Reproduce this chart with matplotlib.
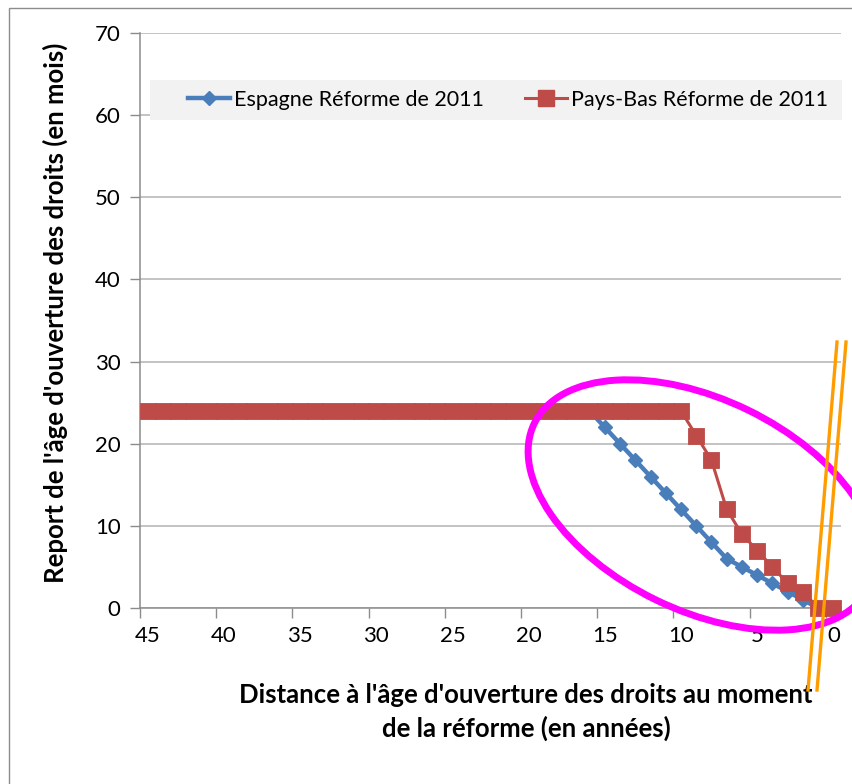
import matplotlib
matplotlib.use("Agg")
import matplotlib.pyplot as plt
from matplotlib.lines import Line2D
from matplotlib.patches import Ellipse, Rectangle
from matplotlib.transforms import IdentityTransform

plt.rcParams['font.family'] = ['Lato', 'DejaVu Sans']

# ---- data ----
distance = [45, 44, 43, 42, 41, 40, 39, 38, 37, 36, 35, 34, 33, 32, 31, 30,
            29, 28, 27, 26, 25, 24, 23, 22, 21, 20, 19, 18, 17, 16, 15, 14,
            13, 12, 11, 10, 9, 8, 7, 6, 5, 4, 3, 2, 1, 0]
espagne = [24, 24, 24, 24, 24, 24, 24, 24, 24, 24, 24, 24, 24, 24, 24, 24,
           24, 24, 24, 24, 24, 24, 24, 24, 24, 24, 24, 24, 24, 24, 22, 20,
           18, 16, 14, 12, 10, 8, 6, 5, 4, 3, 2, 1, 0, 0]
pays_bas = [24, 24, 24, 24, 24, 24, 24, 24, 24, 24, 24, 24, 24, 24, 24, 24,
            24, 24, 24, 24, 24, 24, 24, 24, 24, 24, 24, 24, 24, 24, 24, 24,
            24, 24, 24, 24, 21, 18, 12, 9, 7, 5, 3, 2, 0, 0]
x_tick_labels = ['45', '40', '35', '30', '25', '20', '15', '10', '5', '0']
y_ticks = [0, 10, 20, 30, 40, 50, 60, 70]
series_names = ['Espagne Réforme de 2011', 'Pays-Bas Réforme de 2011']
y_title = "Report de l'âge d'ouverture des droits (en mois)"
x_title_1 = "Distance à l'âge d'ouverture des droits au moment"
x_title_2 = "de la réforme (en années)"

BLUE = '#4A7EBB'
RED = '#BE4B48'
GRID = '#B3B3B3'
AXIS = '#8C8C8C'

W, H = 852, 784
fig = plt.figure(figsize=(W / 100, H / 100), dpi=100)
fig.patch.set_facecolor('white')

L, R, T, B = 140, 841, 33, 608
ax = fig.add_axes([L / W, 1 - B / H, (R - L) / W, (B - T) / H])

ax.plot(distance, espagne, color=BLUE, lw=3.2, marker='D', ms=7.4,
        mfc=BLUE, mec=BLUE, zorder=3, clip_on=False)
ax.plot(distance, pays_bas, color=RED, lw=2.2, marker='s', ms=11.2,
        mfc=RED, mec=RED, mew=0.6, zorder=4, clip_on=False)

ax.set_xlim(45.5, -0.5)
ax.set_ylim(0, 70)

# labels at category centres, tick marks at category boundaries
label_pos = [int(v) for v in x_tick_labels]
ax.set_xticks(label_pos)
ax.set_xticklabels(x_tick_labels)
ax.set_xticks([p + 0.5 for p in label_pos], minor=True)
ax.tick_params(axis='x', which='major', length=0, pad=13, labelsize=16,
               labelcolor='black')
ax.tick_params(axis='x', which='minor', length=7, width=1, color=AXIS)

ax.set_yticks(y_ticks)
ax.tick_params(axis='y', length=7, width=1, color=AXIS, pad=7,
               labelsize=16, labelcolor='black')

ax.grid(axis='y', color=GRID, lw=1.1)
ax.set_axisbelow(True)
for s in ['top', 'right']:
    ax.spines[s].set_visible(False)
for s in ['left', 'bottom']:
    ax.spines[s].set_color(AXIS)
    ax.spines[s].set_linewidth(1.1)

# legend background
lx0, lx1, ly0, ly1 = 150, 842, 80, 120
ax.add_patch(Rectangle(((lx0 - L) / (R - L), (B - ly1) / (B - T)),
                       (lx1 - lx0) / (R - L), (ly1 - ly0) / (B - T),
                       transform=ax.transAxes, facecolor='#F2F2F2',
                       edgecolor='none', zorder=2.5, clip_on=False))
handles = [
    Line2D([], [], color=BLUE, lw=3.2, marker='D', ms=7.4, mfc=BLUE, mec=BLUE),
    Line2D([], [], color=RED, lw=2.2, marker='s', ms=11.2, mfc=RED, mec=RED),
]
leg = ax.legend(handles, series_names, ncol=2, frameon=False,
                loc='center', bbox_to_anchor=((508 - L) / (R - L), (B - 100) / (B - T)),
                fontsize=15.5, handlelength=1.95, handletextpad=0.2,
                columnspacing=1.9, numpoints=1, borderpad=0)
leg.set_zorder(5)

# axis titles
fig.text(55 / W, 1 - 313 / H, y_title, rotation=90, ha='center', va='center',
         fontsize=18.5, fontweight='bold')
fig.text(526 / W, 1 - 695 / H, x_title_1, ha='center', va='center',
         fontsize=18.5, fontweight='bold')
fig.text(526 / W, 1 - 728 / H, x_title_2, ha='center', va='center',
         fontsize=18.5, fontweight='bold')

# chart border
fig.add_artist(Rectangle((9, -20), 900, (H - 8) + 20, transform=IdentityTransform(),
                         fill=False, edgecolor='#8C8C8C', lw=1))

# magenta ellipse annotation
fig.add_artist(Ellipse((702, H - 505), 373, 211, angle=-26,
                       transform=IdentityTransform(), fill=False,
                       edgecolor='#FF00FF', lw=5, zorder=10))
# orange double strokes
fig.add_artist(Line2D([808, 837], [H - 690, H - 342], transform=IdentityTransform(),
                      color='#FF9D00', lw=2.4, zorder=11))
fig.add_artist(Line2D([817, 846], [H - 690, H - 342], transform=IdentityTransform(),
                      color='#FF9D00', lw=2.4, zorder=11))

fig.savefig('out.png', dpi=100)
